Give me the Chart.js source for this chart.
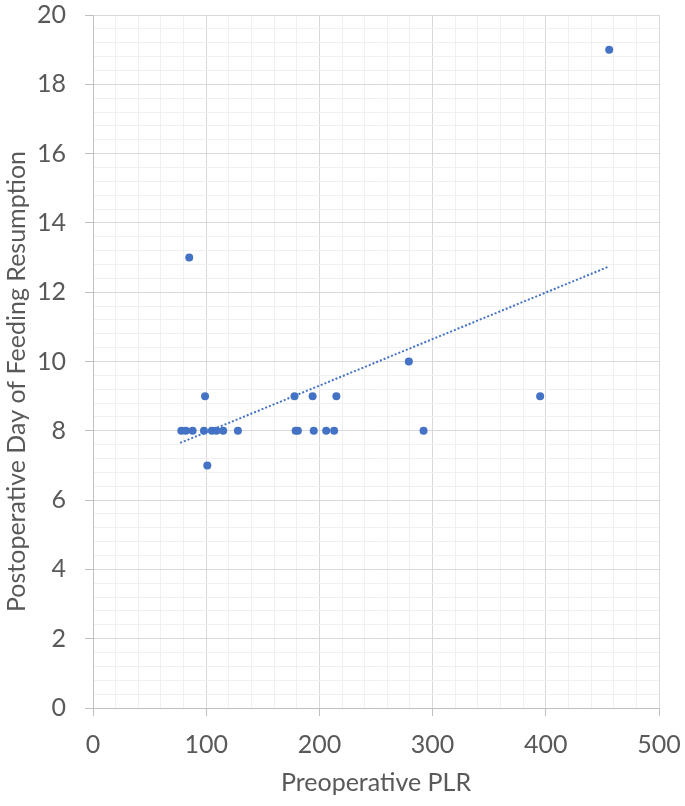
<!DOCTYPE html>
<html>
<head>
<meta charset="utf-8">
<script src="https://cdn.jsdelivr.net/npm/chart.js@4.4.1/dist/chart.umd.min.js"></script>
<style>
  html, body { margin: 0; padding: 0; background: #fff; }
  #wrap { width: 685px; height: 806px; }
</style>
</head>
<body>
<div id="wrap"><canvas id="plr-chart"></canvas></div>
<script>
// values
const plrValues = [456, 85, 279, 99, 178, 194, 215, 395,
                   78, 82, 88, 98, 105, 109, 115, 128, 179, 181, 195, 206, 213, 292,
                   101];
const feedDays  = [19, 13, 10, 9, 9, 9, 9, 9,
                   8, 8, 8, 8, 8, 8, 8, 8, 8, 8, 8, 8, 8, 8,
                   7];
// linear trend line end points
const trendX = [77, 455];
const trendY = [7.65, 12.73];

const xTickLabels = [0, 100, 200, 300, 400, 500];
const yTickLabels = [0, 2, 4, 6, 8, 10, 12, 14, 16, 18, 20];
const xMinorStep = 20;
const yMinorStep = 0.4;

const xTitle = 'Preoperative PLR';
const yTitle = 'Postoperative Day of Feeding Resumption';

const BLUE = '#4472C4';
const TEXT = '#595959';
const FONT = 'Lato, "Open Sans", sans-serif';

const isMajor = (v, list) => list.some(t => Math.abs(t - v) < 1e-6);

function gridOpts(list) {
    return {
        color: c => isMajor(c.tick.value, list) ? '#d9d9d9' : '#f0f0f0',
        tickColor: c => isMajor(c.tick.value, list) ? '#bfbfbf' : 'rgba(0,0,0,0)',
        tickLength: 8,
        lineWidth: 1
    };
}

// the y title sits a bit below the plot centre in the original, so draw it ourselves
const yTitlePlugin = {
    id: 'yTitle',
    afterDraw(chart) {
        const ctx = chart.ctx;
        const a = chart.chartArea;
        ctx.save();
        ctx.translate(17, (a.top + a.bottom) / 2 + 20);
        ctx.rotate(-Math.PI / 2);
        ctx.font = '25px ' + FONT;
        ctx.fillStyle = TEXT;
        ctx.textAlign = 'center';
        ctx.textBaseline = 'middle';
        ctx.fillText(yTitle, 0, 0);
        ctx.restore();
    }
};

const points = plrValues.map((x, i) => ({ x: x, y: feedDays[i] }));
const trend = trendX.map((x, i) => ({ x: x, y: trendY[i] }));

new Chart(document.getElementById('plr-chart'), {
    type: 'scatter',
    data: {
        datasets: [
            { label: 'Trend', type: 'line', data: trend, borderColor: BLUE, borderWidth: 2, borderDash: [2, 2], pointRadius: 0, fill: false, tension: 0 },
            { label: 'Patients', data: points, backgroundColor: BLUE, borderWidth: 0, pointRadius: 4, pointHoverRadius: 4 }
        ]
    },
    plugins: [yTitlePlugin],
    options: {
        responsive: true,
        maintainAspectRatio: false,
        animation: false,
        layout: { padding: { top: 15, right: 26, left: 0, bottom: 0 } },
        plugins: { legend: { display: false }, tooltip: { enabled: false } },
        scales: {
            x: {
                type: 'linear', min: 0, max: 500,
                grid: gridOpts(xTickLabels),
                border: { color: '#bfbfbf', width: 1 },
                ticks: {
                    stepSize: xMinorStep, autoSkip: false, maxRotation: 0, minRotation: 0,
                    padding: 14, color: TEXT, font: { family: FONT, size: 25 },
                    callback: v => isMajor(v, xTickLabels) ? String(Math.round(v)) : ''
                },
                title: { display: true, text: xTitle, color: TEXT, font: { family: FONT, size: 25 }, padding: { top: 0, bottom: 8 } },
                afterFit: s => { s.height = 98; s.paddingLeft = 0; s.paddingRight = 0; }
            },
            y: {
                type: 'linear', min: 0, max: 20,
                grid: gridOpts(yTickLabels),
                border: { color: '#bfbfbf', width: 1 },
                ticks: {
                    stepSize: yMinorStep, autoSkip: false,
                    padding: 19, color: TEXT, font: { family: FONT, size: 25 },
                    callback: v => isMajor(v, yTickLabels) ? String(Math.round(v)) : ''
                },
                title: { display: false, text: yTitle },
                afterFit: s => { s.width = 93; s.paddingTop = 0; s.paddingBottom = 0; }
            }
        }
    }
});
</script>
</body>
</html>
